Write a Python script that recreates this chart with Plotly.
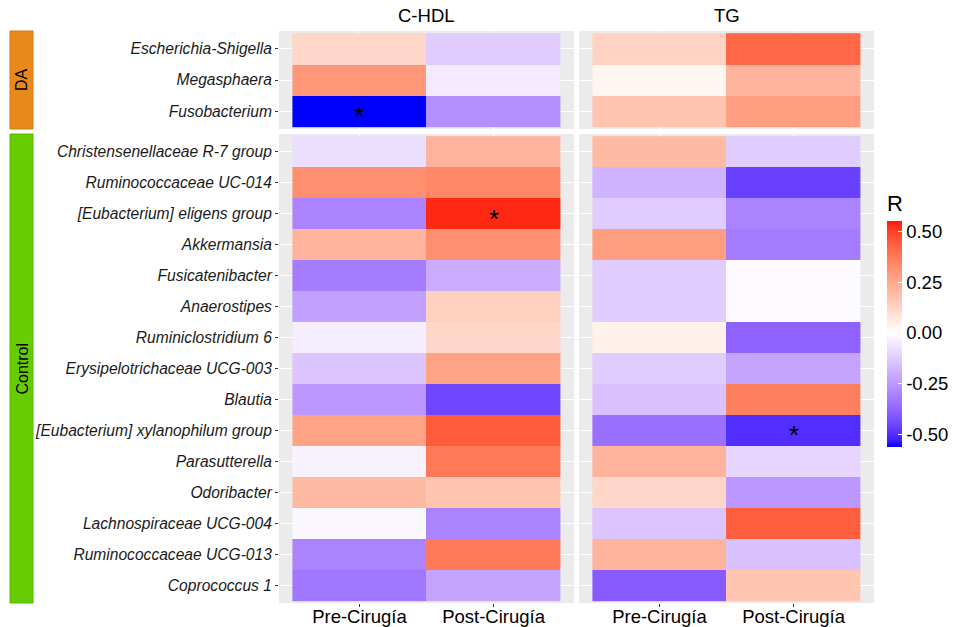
import numpy as np
import plotly.graph_objects as go

# ---------------- data ----------------
da_taxa = ["Escherichia-Shigella", "Megasphaera", "Fusobacterium"]
control_taxa = [
    "Christensenellaceae R-7 group", "Ruminococcaceae UC-014",
    "[Eubacterium] eligens group", "Akkermansia", "Fusicatenibacter",
    "Anaerostipes", "Ruminiclostridium 6", "Erysipelotrichaceae UCG-003",
    "Blautia", "[Eubacterium] xylanophilum group", "Parasutterella",
    "Odoribacter", "Lachnospiraceae UCG-004", "Ruminococcaceae UCG-013",
    "Coprococcus 1",
]
times = ["Pre-Cirugía", "Post-Cirugía"]
facets = ["C-HDL", "TG"]
groups = ["DA", "Control"]

# R values: [Pre, Post]
da_hdl = [[0.12, -0.12], [0.30, -0.05], [-0.56, -0.27]]
da_tg = [[0.13, 0.42], [0.03, 0.22], [0.17, 0.28]]
ctrl_hdl = [[-0.08, 0.22], [0.32, 0.34], [-0.30, 0.53], [0.22, 0.32],
            [-0.32, -0.20], [-0.23, 0.14], [-0.04, 0.12], [-0.14, 0.27],
            [-0.25, -0.45], [0.27, 0.45], [-0.03, 0.38], [0.20, 0.17],
            [-0.02, -0.30], [-0.30, 0.38], [-0.33, -0.22]]
ctrl_tg = [[0.20, -0.12], [-0.18, -0.46], [-0.12, -0.30], [0.28, -0.32],
           [-0.12, -0.01], [-0.12, -0.01], [0.04, -0.38], [-0.12, -0.22],
           [-0.15, 0.36], [-0.35, -0.50], [0.22, -0.10], [0.12, -0.25],
           [-0.14, 0.44], [0.22, -0.15], [-0.40, 0.17]]
# significance markers
da_hdl_sig = [["", ""], ["", ""], ["*", ""]]
da_tg_sig = [["", ""], ["", ""], ["", ""]]
ctrl_hdl_sig = [["", ""] for _ in control_taxa]
ctrl_hdl_sig[2] = ["", "*"]
ctrl_tg_sig = [["", ""] for _ in control_taxa]
ctrl_tg_sig[9] = ["", "*"]

colorbar_ticks = [-0.5, -0.25, 0.0, 0.25, 0.5]
colorbar_ticktext = ["-0.50", "-0.25", "0.00", "0.25", "0.50"]
zmin, zmax = -0.56, 0.55

# ---------------- Lab gradient (like ggplot scale_fill_gradient2) ----------------
def srgb_to_lab(rgb):
    c = np.array(rgb, dtype=float) / 255.0
    lin = np.where(c <= 0.04045, c / 12.92, ((c + 0.055) / 1.055) ** 2.4)
    M = np.array([[0.4124564, 0.3575761, 0.1804375],
                  [0.2126729, 0.7151522, 0.0721750],
                  [0.0193339, 0.1191920, 0.9503041]])
    xyz = M @ lin
    xyz = xyz / np.array([0.95047, 1.0, 1.08883])
    f = np.where(xyz > 216 / 24389, np.cbrt(xyz), (24389 / 27 * xyz + 16) / 116)
    return np.array([116 * f[1] - 16, 500 * (f[0] - f[1]), 200 * (f[1] - f[2])])


def lab_to_srgb(lab):
    L, a, b = lab
    fy = (L + 16) / 116
    fx = fy + a / 500
    fz = fy - b / 200
    def finv(t):
        return t ** 3 if t ** 3 > 216 / 24389 else (116 * t - 16) / (24389 / 27)
    xyz = np.array([finv(fx) * 0.95047, finv(fy) * 1.0, finv(fz) * 1.08883])
    Minv = np.array([[3.2404542, -1.5371385, -0.4985314],
                     [-0.9692660, 1.8760108, 0.0415560],
                     [0.0556434, -0.2040259, 1.0572252]])
    lin = np.clip(Minv @ xyz, 0, 1)
    c = np.where(lin <= 0.0031308, 12.92 * lin, 1.055 * lin ** (1 / 2.4) - 0.055)
    c = np.clip(np.round(c * 255), 0, 255).astype(int)
    return "rgb(%d,%d,%d)" % tuple(c)


lab_blue = srgb_to_lab([0, 0, 255])
lab_white = srgb_to_lab([255, 255, 255])
lab_red = srgb_to_lab([255, 0, 0])
mabs = max(abs(zmin), abs(zmax))
colorscale = []
for p in np.linspace(0, 1, 41):
    v = zmin + p * (zmax - zmin)
    t = 0.5 + v / (2 * mabs)
    if t < 0.5:
        s = t / 0.5
        lab = lab_blue + (lab_white - lab_blue) * s
    else:
        s = (t - 0.5) / 0.5
        lab = lab_white + (lab_red - lab_white) * s
    colorscale.append([float(p), lab_to_srgb(lab)])

# ---------------- layout geometry ----------------
W, H = 959, 627
def px_x(x):
    return x / W
def px_y(y):
    return 1 - y / H

col_dom = [[px_x(279), px_x(574)], [px_x(579), px_x(874)]]
row_dom = [[px_y(129), px_y(31)], [px_y(603), px_y(134)]]

fig = go.Figure()

panels = [
    (0, 0, da_taxa, da_hdl, da_hdl_sig),
    (0, 1, da_taxa, da_tg, da_tg_sig),
    (1, 0, control_taxa, ctrl_hdl, ctrl_hdl_sig),
    (1, 1, control_taxa, ctrl_tg, ctrl_tg_sig),
]

font_family = "Liberation Sans, Arial, sans-serif"
annotations = []
axis_idx = 0
for r, c, taxa, vals, sig in panels:
    axis_idx += 1
    sfx = "" if axis_idx == 1 else str(axis_idx)
    fig.add_trace(go.Heatmap(
        x=times, y=taxa, z=vals,
        colorscale=colorscale, zmin=zmin, zmax=zmax,
        showscale=(axis_idx == 1),
        xaxis="x" + sfx, yaxis="y" + sfx,
        hovertemplate="%{y}<br>%{x}<br>R=%{z}<extra></extra>",
        colorbar=dict(
            title=dict(text="R", font=dict(size=22, color="black", family=font_family), side="top"),
            x=px_x(887), xanchor="left", y=px_y(447), yanchor="bottom",
            len=256, lenmode="pixels", thickness=15, thicknessmode="pixels",
            tickvals=colorbar_ticks, ticktext=colorbar_ticktext,
            ticks="inside", ticklen=4, tickcolor="white",
            tickfont=dict(size=18.5, color="black", family=font_family),
            outlinewidth=0, xpad=0, ypad=0,
        ),
    ))
    # significance asterisks
    for i, taxon in enumerate(taxa):
        for j, tm in enumerate(times):
            if sig[i][j]:
                annotations.append(dict(
                    xref="x" + sfx, yref="y" + sfx, x=tm, y=taxon,
                    text=sig[i][j], showarrow=False, yshift=-5,
                    font=dict(size=26, color="black", family=font_family)))
    n = len(taxa)
    fig.layout["xaxis" + sfx] = dict(
        domain=col_dom[c], anchor="y" + sfx, type="category",
        categoryorder="array", categoryarray=times,
        range=[-0.6, 1.6], showgrid=True, gridcolor="white", gridwidth=1.2,
        zeroline=False, showline=False,
        showticklabels=(r == 1), ticks="outside" if r == 1 else "",
        ticklen=3, tickcolor="#333333",
        tickfont=dict(size=18.5, color="black", family=font_family),
        automargin=False, fixedrange=True,
    )
    if r == 1:
        fig.layout["xaxis" + sfx].ticklabelstandoff = -6
    fig.layout["yaxis" + sfx] = dict(
        domain=row_dom[r], anchor="x" + sfx, type="category",
        categoryorder="array", categoryarray=taxa,
        range=[n - 1 + 0.57, -0.57], showgrid=True, gridcolor="white", gridwidth=1.2,
        zeroline=False, showline=False,
        showticklabels=(c == 0), ticks="outside" if c == 0 else "",
        ticklen=3, tickcolor="#333333",
        tickfont=dict(size=15.6, color="#1a1a1a", family=font_family),
        automargin=False, fixedrange=True,
    )

shapes = []
# panel backgrounds
for r in range(2):
    for c in range(2):
        shapes.append(dict(type="rect", xref="paper", yref="paper",
                           x0=col_dom[c][0], x1=col_dom[c][1],
                           y0=row_dom[r][0], y1=row_dom[r][1],
                           fillcolor="#EBEBEB", line=dict(width=0), layer="below"))

# left strips
strip_colors = ["#E8891A", "#66CC00"]
strip_lines = ["#d07a12", "#5cb800"]
for r, g in enumerate(groups):
    shapes.append(dict(type="rect", xref="paper", yref="paper",
                       x0=px_x(10), x1=px_x(33), y0=row_dom[r][0], y1=row_dom[r][1],
                       fillcolor=strip_colors[r], line=dict(color=strip_lines[r], width=1)))
    annotations.append(dict(xref="paper", yref="paper", x=px_x(22),
                            y=(row_dom[r][0] + row_dom[r][1]) / 2,
                            xanchor="center", yanchor="middle",
                            text=g, showarrow=False, textangle=-90,
                            font=dict(size=16, color="black", family=font_family)))

# top facet labels
for c, f in enumerate(facets):
    annotations.append(dict(xref="paper", yref="paper", x=(col_dom[c][0] + col_dom[c][1]) / 2,
                            y=px_y(16), xanchor="center", yanchor="middle",
                            text=f, showarrow=False,
                            font=dict(size=18.5, color="black", family=font_family)))

fig.update_layout(
    width=W, height=H, margin=dict(l=0, r=0, t=0, b=0),
    paper_bgcolor="white", plot_bgcolor="rgba(0,0,0,0)",
    shapes=shapes, annotations=annotations, showlegend=False,
    font=dict(family=font_family),
    template="none",
)
# italic tick labels for taxa
for sfx in ["", "3"]:
    ax = fig.layout["yaxis" + sfx]
    arr = list(ax.categoryarray)
    ax.tickmode = "array"
    ax.tickvals = arr
    ax.ticktext = ["<i>%s</i>" % t for t in arr]

fig.write_html("out.html", config={"displayModeBar": False},
               post_script="document.body.style.margin='0';")
